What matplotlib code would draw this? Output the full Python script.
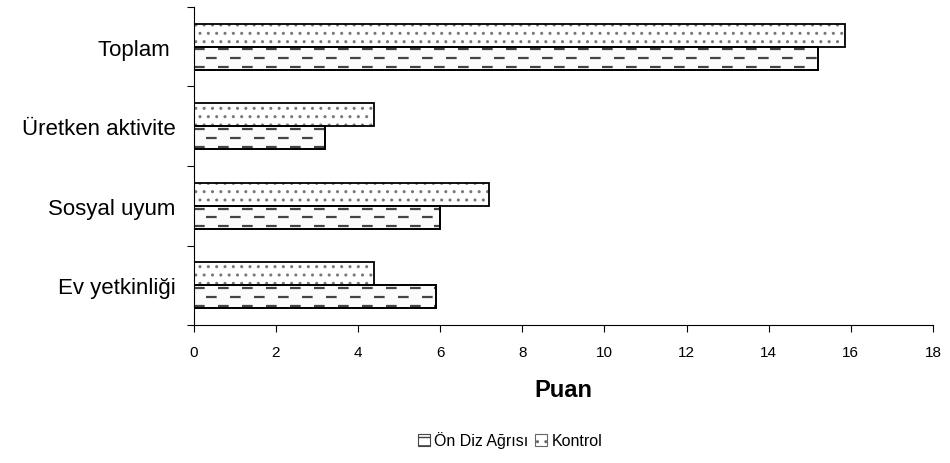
import numpy as np
import matplotlib
matplotlib.use("Agg")
import matplotlib.pyplot as plt
from matplotlib.patches import Patch

plt.rcParams['font.family'] = ['Liberation Sans', 'DejaVu Sans']
plt.rcParams['hatch.linewidth'] = 1.0
plt.rcParams['hatch.color'] = '#666666'

# data (bottom -> top)
categories = ['Ev yetkinliği', 'Sosyal uyum', 'Üretken aktivite', 'Toplam ']
on_diz = [5.9, 6.0, 3.2, 15.2]
kontrol = [4.4, 7.2, 4.4, 15.85]
x_ticks = [0, 2, 4, 6, 8, 10, 12, 14, 16, 18]

fig = plt.figure(figsize=(9.5, 4.64), dpi=100)
ax = fig.add_axes([0.204, 0.297, 0.778, 0.686])

y = np.arange(len(categories))
h = 0.29

# Kontrol: dotted fill
ax.barh(y + h / 2, kontrol, height=h, color='white', edgecolor='#777777',
        hatch='..', linewidth=0)
ax.barh(y + h / 2, kontrol, height=h, fill=False, edgecolor='black', linewidth=1.3)

# Ön Diz Ağrısı: dashed fill, drawn as clipped dashed lines
bars = ax.barh(y - h / 2, on_diz, height=h, color='#fbfbfb', edgecolor='black',
               linewidth=1.3, zorder=2)
for i, b in enumerate(bars):
    yc = y[i] - h / 2
    for k, off in zip([-0.38, 0.0, 0.38], [0, 5.4, 0]):
        ln, = ax.plot([0, on_diz[i]], [yc + k * h, yc + k * h], color='#444444',
                      lw=1.6, linestyle=(off, (4.8, 6.0)), zorder=2.5)
        ln.set_clip_path(b)
    ax.add_patch(plt.Rectangle((0, yc - h / 2), on_diz[i], h, fill=False,
                               edgecolor='black', lw=1.3, zorder=3))

ax.set_xlim(0, 18)
ax.set_ylim(-0.5, len(categories) - 0.5)
ax.set_xticks(x_ticks)
ax.set_xticklabels([str(t) for t in x_ticks], fontsize=11)
ax.set_yticks(y)
ax.set_yticklabels(categories, fontsize=16)
ax.set_yticks(np.arange(-0.5, len(categories)), minor=True)
ax.tick_params(axis='y', which='major', length=0, pad=13)
ax.tick_params(axis='y', which='minor', length=5, width=0.8)
ax.tick_params(axis='x', length=5, width=0.8, pad=9)
ax.spines['top'].set_visible(False)
ax.spines['right'].set_visible(False)
ax.spines['left'].set_linewidth(0.8)
ax.spines['bottom'].set_linewidth(0.8)
ax.set_xlabel('Puan', fontsize=17, fontweight='bold', labelpad=14)

handles = [Patch(facecolor='white', edgecolor='#444444', hatch='--', lw=0.8),
           Patch(facecolor='white', edgecolor='#666666', hatch='..', lw=0.8)]
fig.legend(handles, ['Ön Diz Ağrısı', 'Kontrol'], loc='center', ncol=2,
           bbox_to_anchor=(0.537, 0.05), frameon=False, fontsize=11.5,
           handlelength=0.75, handleheight=0.75, handletextpad=0.3, columnspacing=0.4)

fig.savefig('out.png', dpi=100)
